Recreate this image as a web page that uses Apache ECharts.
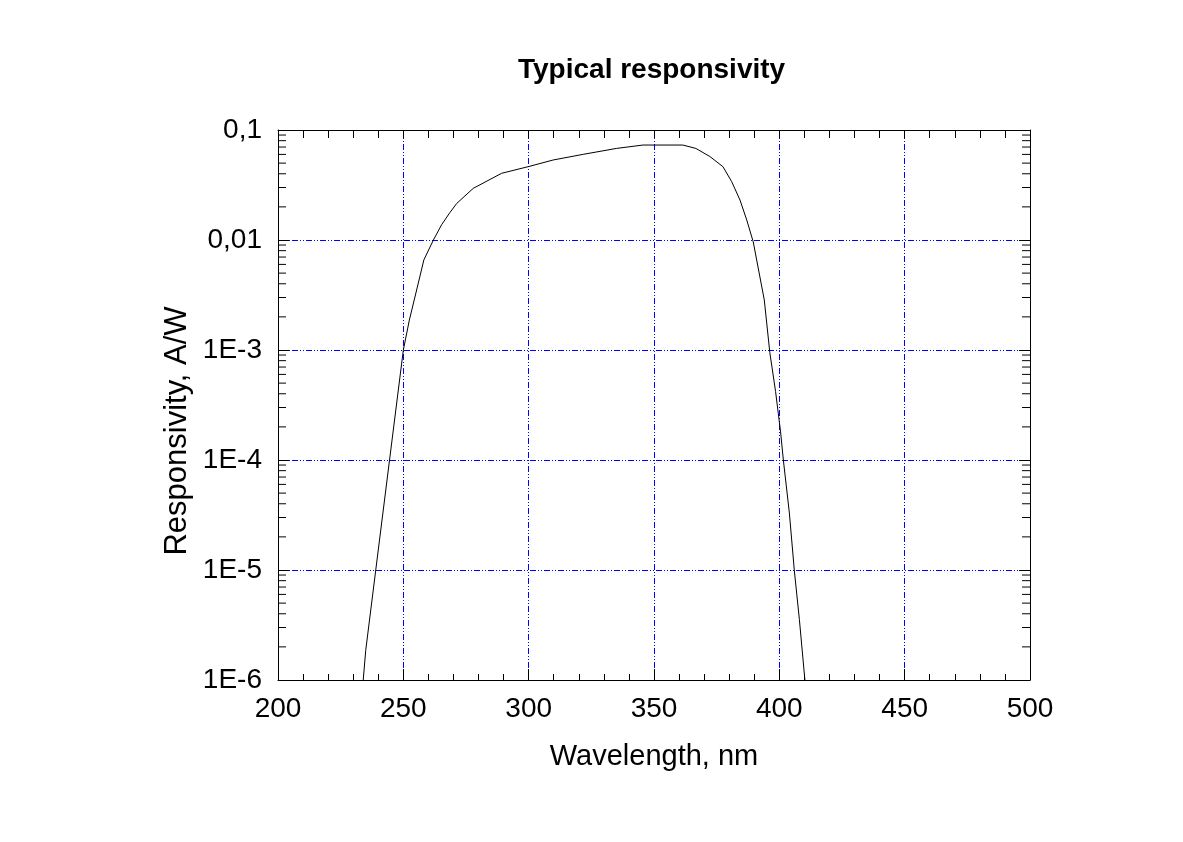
<!DOCTYPE html>
<html>
<head>
<meta charset="utf-8">
<script src="https://cdn.jsdelivr.net/npm/echarts@6/dist/echarts.min.js"></script>
<style>
  html, body { margin: 0; padding: 0; background: #fff; }
  #chart { width: 1183px; height: 842px; }
</style>
</head>
<body>
<div id="chart"></div>
<script>
// wavelength, nm
const wavelength = [234, 235, 239, 244.5, 250, 252.4, 255.6, 258.2, 262, 265.3, 268.6, 271.3, 277.9,
  289.2, 299.8, 309.8, 321.8, 335, 345.6, 361.5, 366.7, 372.3, 377.5, 381, 384.3, 387, 389.6,
  394, 396.2, 398.5, 400.5, 401.6, 404, 406, 408, 410.2];
// responsivity, A/W
const responsivity = [1e-6, 1.86e-6, 1e-5, 1e-4, 1e-3, 1.87e-3, 3.74e-3, 6.6e-3, 0.01, 0.0138, 0.0178, 0.0215, 0.0295,
  0.0404, 0.0464, 0.0534, 0.0601, 0.068, 0.073, 0.073, 0.068, 0.0574, 0.0464, 0.0339, 0.0231, 0.0152, 0.0096,
  2.85e-3, 9.5e-4, 4.2e-4, 1.8e-4, 1e-4, 3.3e-5, 9.8e-6, 3.55e-6, 1e-6];

const xTickValues = [200, 250, 300, 350, 400, 450, 500];
const yTickLabels = ['1E-6', '1E-5', '1E-4', '1E-3', '0,01', '0,1'];

// minor ticks on the log axis: 2..9 of every decade
const yMinor = [];
for (let n = -6; n <= -2; n++) {
  for (let k = 2; k <= 9; k++) yMinor.push(k * Math.pow(10, n));
}

const font = 'Liberation Sans, Arial, sans-serif';
const gridLine = { show: true, lineStyle: { color: '#0000ff', width: 1, type: [6, 2, 1, 2, 1, 2] } };

const chart = echarts.init(document.getElementById('chart'));
chart.setOption({
  animation: false,
  backgroundColor: '#fff',
  title: {
    text: 'Typical responsivity',
    left: 513,
    top: 51,
    textStyle: { fontFamily: font, fontWeight: 'bold', fontSize: 28, color: '#000' }
  },
  grid: { left: 278, right: 153, top: 130, bottom: 162 },
  xAxis: [{
    type: 'value', min: 200, max: 500, interval: 50,
    name: 'Wavelength, nm', nameLocation: 'middle', nameGap: 62,
    nameTextStyle: { fontFamily: font, fontSize: 29, color: '#000' },
    axisLine: { show: true, onZero: false, lineStyle: { color: '#000', width: 1 } },
    axisTick: { show: true, inside: true, length: 11, lineStyle: { color: '#000' } },
    minorTick: { show: true, splitNumber: 5, length: 6, lineStyle: { color: '#000' } },
    axisLabel: { fontFamily: font, fontSize: 28, color: '#000', margin: 15,
      formatter: v => xTickValues.includes(v) ? String(v) : '' },
    splitLine: gridLine
  }, {
    type: 'value', min: 200, max: 500, interval: 50, position: 'top',
    axisLine: { show: true, onZero: false, lineStyle: { color: '#000', width: 1 } },
    axisTick: { show: true, inside: true, length: 8, lineStyle: { color: '#000' } },
    minorTick: { show: true, splitNumber: 5, length: 8, lineStyle: { color: '#000' } },
    axisLabel: { show: false },
    splitLine: { show: false }
  }],
  yAxis: [{
    type: 'log', logBase: 10, min: 1e-6, max: 0.1,
    axisLine: { show: true, onZero: false, lineStyle: { color: '#000', width: 1 } },
    axisTick: { show: true, inside: true, length: 11, lineStyle: { color: '#000' } },
    axisLabel: { fontFamily: font, fontSize: 28, color: '#000', margin: 16, padding: [4, 0, 0, 0],
      formatter: v => yTickLabels[Math.round(Math.log10(v)) + 6] || '' },
    splitLine: gridLine
  }, {
    type: 'log', logBase: 10, min: 1e-6, max: 0.1, position: 'right',
    axisLine: { show: true, onZero: false, lineStyle: { color: '#000', width: 1 } },
    axisTick: { show: true, inside: true, length: 11, lineStyle: { color: '#000' } },
    axisLabel: { show: false },
    splitLine: { show: false }
  }],
  graphic: [{
    type: 'text',
    x: 177, y: 431,
    rotation: Math.PI / 2,
    style: {
      text: 'Responsivity, A/W',
      font: '31px ' + font,
      fill: '#000',
      align: 'center',
      verticalAlign: 'middle'
    }
  }],
  series: [{
    type: 'line',
    data: wavelength.map((w, i) => [w, responsivity[i]]),
    showSymbol: false,
    lineStyle: { color: '#000', width: 1 },
    z: 5
  }, {
    type: 'custom',
    silent: true,
    clip: false,
    data: yMinor.map(v => [200, v]),
    renderItem: (params, api) => {
      const v = api.value(1);
      const l = api.coord([200, v]);
      const r = api.coord([500, v]);
      return {
        type: 'group',
        children: [
          { type: 'line', shape: { x1: l[0], y1: l[1], x2: l[0] + 8, y2: l[1] }, style: { stroke: '#000', lineWidth: 1 } },
          { type: 'line', shape: { x1: r[0], y1: r[1], x2: r[0] - 8, y2: r[1] }, style: { stroke: '#000', lineWidth: 1 } }
        ]
      };
    }
  }]
});
</script>
</body>
</html>
